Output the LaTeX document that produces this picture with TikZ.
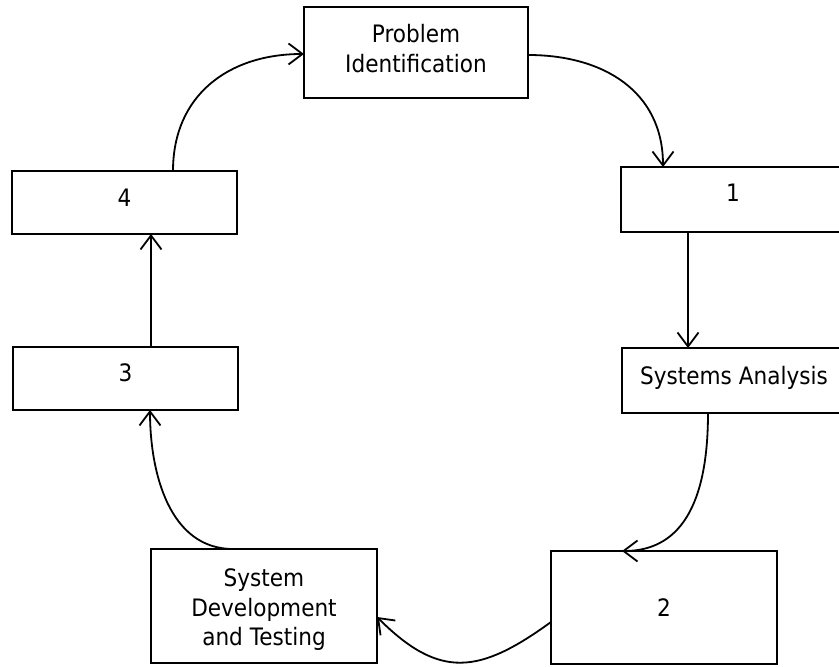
\documentclass[tikz,border=0pt]{standalone}
\usepackage{fontspec}
\setmainfont{DejaVu Sans}[FakeStretch=0.9]
\usetikzlibrary{arrows.meta}
\begin{document}
\begin{tikzpicture}[x=1pt,y=1pt,
  every node/.style={font=\fontsize{24}{29.5}\selectfont},
  box/.style={draw, line width=1.8pt, inner sep=0pt, outer sep=0pt, rectangle},
  lbl/.style={align=center, inner sep=0pt},
  conn/.style={line width=1.8pt, -{Straight Barb[length=14pt,width=21pt]}}
]
\useasboundingbox (0,0) rectangle (839,667);

\node[box, minimum width=224pt, minimum height=91pt,
      label={[lbl, yshift=4pt]center:{Problem\\Identification}}] (pi) at (416,614.5) {};
\node[box, minimum width=224pt, minimum height=65pt,
      label={[lbl, yshift=7pt]center:1}] (b1) at (733,467.5) {};
\node[box, minimum width=224pt, minimum height=65pt,
      label={[lbl, yshift=3pt]center:Systems Analysis}] (sa) at (734,286.5) {};
\node[box, minimum width=226pt, minimum height=113pt,
      label={[lbl, yshift=0pt]center:2}] (b2) at (664,59.5) {};
\node[box, minimum width=226pt, minimum height=114pt,
      label={[lbl, yshift=-4pt]center:{System\\Development\\and Testing}}] (sd) at (264,61) {};
\node[box, minimum width=225pt, minimum height=63pt,
      label={[lbl, yshift=6pt]center:3}] (b3) at (125.5,288.5) {};
\node[box, minimum width=225pt, minimum height=63pt,
      label={[lbl, yshift=4.5pt]center:4}] (b4) at (124.5,464.5) {};

\draw[conn] ([xshift=48.5pt]b4.north) to[out=90,in=180,looseness=1.1] ([yshift=-1.5pt]pi.west);
\draw[conn] ([yshift=-2.5pt]pi.east) to[out=0,in=90,looseness=1.1] ([xshift=-70pt]b1.north);
\coordinate (s1) at ([xshift=-45pt]b1.south);
\draw[conn] (s1) -- (s1 |- sa.north);
\draw[conn] ([xshift=-26pt]sa.south) to[out=-90,in=0,out looseness=1.3] ([xshift=-42pt]b2.north);
\draw[conn] ([yshift=-14.5pt]b2.west) to[out=-144,in=-45,looseness=1.3] ([yshift=-11pt]sd.east);
\draw[conn] ([xshift=-31pt]sd.north) to[out=180,in=-90] ([xshift=24.5pt]b3.south);
\coordinate (s3) at ([xshift=25.5pt]b3.north);
\draw[conn] (s3) -- (s3 |- b4.south);
\end{tikzpicture}
\end{document}
